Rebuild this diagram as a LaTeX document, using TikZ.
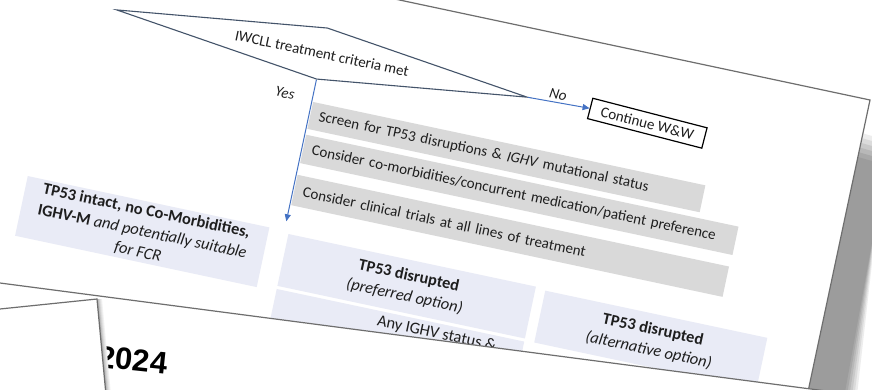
\documentclass[tikz,border=0pt]{standalone}
\usepackage{fontspec}
\setmainfont{Carlito}
\newfontfamily\titlefont{Liberation Sans}
\usetikzlibrary{shapes.geometric,arrows.meta}
\definecolor{barfill}{RGB}{217,217,217}
\definecolor{optfill}{RGB}{233,235,246}
\definecolor{flowblue}{RGB}{68,114,196}
\definecolor{slate}{RGB}{68,84,106}
\definecolor{ink}{RGB}{30,30,30}
\definecolor{pageline}{RGB}{110,110,110}
\begin{document}
\begin{tikzpicture}[x=1pt, y=-1pt,
  flowtext/.style={font=\fontsize{15}{18}\selectfont, text=ink},
  lbl/.style={font=\fontsize{15}{18}\selectfont\itshape, text=ink},
  greybar/.style={fill=barfill, anchor=north west, inner xsep=9pt, inner ysep=0pt, align=left, flowtext},
  optbox/.style={fill=optfill, inner sep=0pt, align=center, font=\fontsize{16.4}{21}\selectfont, text=ink},
  decision/.style={diamond, draw=slate, line width=1.1pt, fill=white, inner sep=0pt, aspect=8,
    minimum width=420pt, minimum height=52.6pt, flowtext},
  endbox/.style={draw=black, line width=1.2pt, fill=white, minimum width=118pt, minimum height=21pt,
    inner sep=0pt, flowtext},
  flowarrow/.style={draw=flowblue, line width=1pt, -{Triangle[length=7pt,width=6pt]}},
  sheetedge/.style={draw=pageline, line width=1.2pt},
]
\useasboundingbox (0,0) rectangle (872,389);
\clip (0,0) rectangle (872,389);
\fill[white] (0,0) rectangle (872,389);

% soft drop shadow to the right of the main sheet, built from nested tones
\foreach \k/\c in {0/7,1/14,2/21,3/28,4/34,5/39}
  \fill[black!\c] (858,132+5*\k) -- (886,140+5*\k) -- (857-2.5*\k,395) -- (790,395) -- cycle;

% ---- main sheet: the treatment flowchart, turned on the desk ----
\begin{scope}[shift={(870,100)}, rotate=-12, transform shape]
  \fill[white] (-1300,0) rectangle (0,430);
  \draw[sheetedge] (-1300,0) -- (0,0) -- (0,430);

  % decision and exit
  \node[decision] (iwcll) at (-545.7,68.5) {IWCLL treatment criteria met};
  \node[endbox, rotate=-2.5] (ww) at (-213,69) {Continue W\&W};

  % work-up steps
  \node[greybar, text width=383pt, minimum height=27.5pt] (screen) at (-544.5,117.5)
    {Screen for TP53 disruptions \& \textit{IGHV} mutational status};
  \node[greybar, text width=424pt, minimum height=29pt] (comorb) at (-544.5,151)
    {Consider co-morbidities/concurrent medication/patient preference};
  \node[greybar, text width=423pt, minimum height=31pt] (trials) at (-544.5,192)
    {Consider clinical trials at all lines of treatment};

  % treatment groups
  \node[optbox, minimum width=247pt, minimum height=61pt] (fcr) at (-684.5,280)
    {\textbf{TP53 intact, no Co-Morbidities,}\\ \textbf{IGHV-M} \textit{and potentially suitable}\\ \textit{for FCR}};
  \node[optbox, minimum width=253pt, minimum height=53pt] (pref) at (-414.5,278.5)
    {\textbf{TP53 disrupted}\\ \textit{(preferred option)}};
  \node[optbox, minimum width=253pt, minimum height=60pt, anchor=north] (anyighv) at (-414.5,308) {};
  \node[optbox, fill=none, anchor=west] (anytext) at (-436,319) {Any IGHV status \&};
  \node[optbox, minimum width=227pt, minimum height=53pt] (alt) at (-164.5,280.5)
    {\textbf{TP53 disrupted}\\ \textit{(alternative option)}};

  % connectors
  \coordinate (yesend) at (-545.7,240);
  \draw[flowarrow] (iwcll.south) -- (yesend);
  \draw[flowarrow] (iwcll.east) -- (ww.west);
  \node[lbl] (yes) at (-573.6,115) {Yes};
  \node[lbl] (no) at (-306,60) {No};
\end{scope}

% ---- second sheet lying over the lower part ----
\fill[white] (0,283) -- (872,397) -- (872,400) -- (0,400) -- cycle;
\draw[sheetedge] (0,283) -- (872,397);
\node[font=\titlefont\bfseries\fontsize{31}{31}\selectfont, rotate=-6, text=black] (year) at (133,360) {2024};

% ---- third sheet at the lower left, casting a thin shadow ----
\foreach \d/\c in {5/5,4/10,3/16,2/24,1/32}
  \fill[black!\c] (97,299) -- (97+\d,299) -- (106+\d,395) -- (106,395) -- cycle;
\fill[white] (-5,309.5) -- (97,299) -- (106,395) -- (-5,395) -- cycle;
\draw[sheetedge] (-5,309.5) -- (97,299) -- (106,395);
\end{tikzpicture}
\end{document}
